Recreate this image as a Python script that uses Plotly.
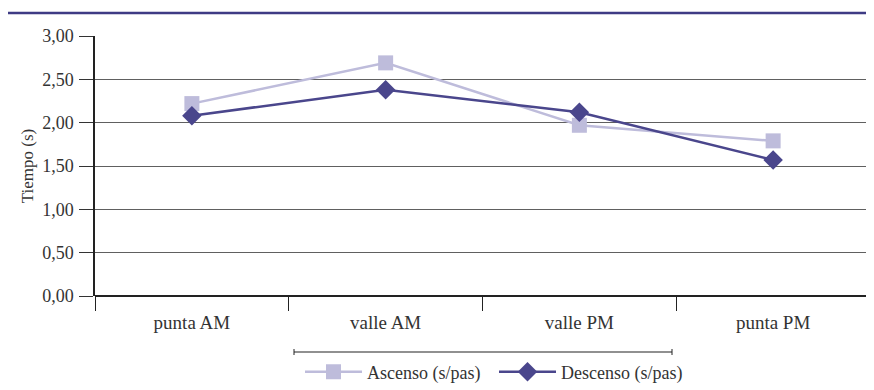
import plotly.graph_objects as go

categorias = ["punta AM", "valle AM", "valle PM", "punta PM"]
ascenso = [2.22, 2.69, 1.97, 1.79]
descenso = [2.08, 2.38, 2.12, 1.57]
y_ticks = [0, 0.5, 1.0, 1.5, 2.0, 2.5, 3.0]

FONT = "Liberation Serif, Times New Roman, serif"
C_ASC = "#bebcdb"
C_DES = "#4a468c"

fig = go.Figure()
fig.add_trace(go.Scatter(
    x=categorias, y=ascenso, name="Ascenso (s/pas)", mode="lines+markers",
    line=dict(color=C_ASC, width=2.5),
    marker=dict(symbol="square", size=15, color=C_ASC),
))
fig.add_trace(go.Scatter(
    x=categorias, y=descenso, name="Descenso (s/pas)", mode="lines+markers",
    line=dict(color=C_DES, width=2.5),
    marker=dict(symbol="diamond", size=15, color=C_DES),
))

# page body has an 8px margin, so work in figure coords = screen - 8
OFF = 8
W, H = 874 - OFF, 390 - OFF
L, T = 95 - OFF, 36 - OFF
R = W - (870 - OFF)
B = H - (296 - OFF)
pw, ph = W - L - R, H - T - B

def px(x):
    return (x - OFF - L) / pw

def py(y):
    return (H - B - (y - OFF)) / ph

shapes = [
    dict(type="line", xref="paper", yref="paper", x0=px(8), x1=px(874), y0=py(13), y1=py(13),
         line=dict(color="#3e3b84", width=2.5)),
    dict(type="line", xref="paper", yref="paper", x0=px(294), x1=px(672), y0=py(352), y1=py(352),
         line=dict(color="#222222", width=1.2)),
    dict(type="line", xref="paper", yref="paper", x0=px(294), x1=px(294), y0=py(349), y1=py(355),
         line=dict(color="#222222", width=1)),
    dict(type="line", xref="paper", yref="paper", x0=px(672), x1=px(672), y0=py(349), y1=py(355),
         line=dict(color="#222222", width=1)),
]

fig.update_layout(
    width=W, height=H,
    margin=dict(l=L, r=R, t=T, b=B, autoexpand=False),
    paper_bgcolor="white", plot_bgcolor="white",
    separators=",.",
    font=dict(family=FONT, size=18, color="#333333"),
    showlegend=True,
    legend=dict(orientation="h", x=px(300), xanchor="left", y=py(372), yanchor="middle",
                itemwidth=57, entrywidth=122, entrywidthmode="pixels",
                font=dict(size=18, family=FONT, color="#333333"),
                bgcolor="rgba(0,0,0,0)"),
    shapes=shapes,
    xaxis=dict(
        type="category", categoryorder="array", categoryarray=categorias,
        range=[-0.5, 3.5], automargin=False,
        tickson="boundaries", ticks="outside", ticklen=14, tickcolor="#222222",
        ticklabelstandoff=13,
        showgrid=False, showline=False, zeroline=False,
        tickfont=dict(size=19, family=FONT),
    ),
    yaxis=dict(
        range=[0, 3.0], tickvals=y_ticks, tickformat=".2f", automargin=False,
        ticks="outside", ticklen=14, tickcolor="#333333", ticklabelstandoff=2,
        showgrid=True, gridcolor="#606060", gridwidth=1,
        showline=True, linecolor="#222222", linewidth=1.5,
        zeroline=True, zerolinecolor="#222222", zerolinewidth=1.5,
        title=dict(text="Tiempo (s)", font=dict(size=17, family=FONT), standoff=4),
        tickfont=dict(size=18, family=FONT),
    ),
)

fig.write_html("out.html")
